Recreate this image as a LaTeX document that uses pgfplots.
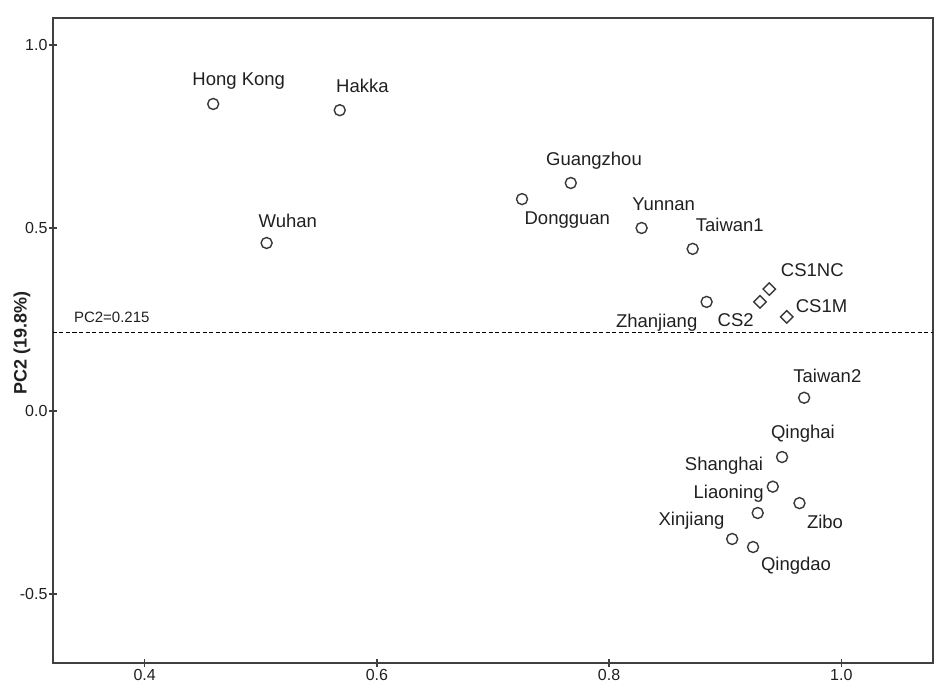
\documentclass[border=0pt]{standalone}
\usepackage{fontspec}
\setmainfont{Liberation Sans}
\usepackage{pgfplots}
\pgfplotsset{compat=1.18}
\definecolor{txt}{HTML}{202020}
\definecolor{mk}{HTML}{383838}
\begin{document}
\begin{tikzpicture}
\useasboundingbox (-53pt,-23pt) rectangle (882pt,663pt);
\begin{axis}[
  width=880pt, height=645pt, scale only axis,
  xmin=0.321, xmax=1.079, ymin=-0.689, ymax=1.074,
  xtick={0.4,0.6,0.8,1.0}, ytick={-0.5,0,0.5,1.0},
  xtick pos=bottom, ytick pos=left, tick align=center,
  major tick length=8pt,
  axis line style={line width=1.3pt, black!75},
  tick style={line width=1.3pt, black!75},
  /pgf/number format/.cd, fixed, fixed zerofill, precision=1, assume math mode=true,
  /pgfplots/.cd,
  tick label style={font=\fontsize{16}{18}\selectfont, text=txt},
  yticklabel style={xshift=2pt},
  xticklabel style={yshift=1pt},
  clip=false,
]
\addplot[only marks, mark=o, mark size=5.5pt, mark options={line width=1.4pt, draw=mk}] table {
x y
0.459 0.839
0.568 0.822
0.505 0.459
0.767 0.623
0.725 0.579
0.828 0.500
0.872 0.443
0.884 0.298
0.968 0.036
0.949 -0.126
0.941 -0.207
0.928 -0.279
0.964 -0.252
0.906 -0.350
0.924 -0.372
};
\addplot[only marks, mark=square, mark size=4.4pt, mark options={rotate=45, line width=1.4pt, draw=mk}] table {
x y
0.930 0.298
0.938 0.333
0.953 0.257
};
\addplot[black, line width=1pt, dash pattern=on 4pt off 2.5pt] coordinates {(0.321,0.215) (1.079,0.215)};
\begin{scope}[every node/.style={font=\fontsize{18.5}{20}\selectfont, text=txt, inner sep=0pt}]
\node at (axis cs:0.481,0.902) {Hong Kong};
\node at (axis cs:0.5875,0.889) {Hakka};
\node at (axis cs:0.5233,0.519) {Wuhan};
\node at (axis cs:0.787,0.683) {Guangzhou};
\node at (axis cs:0.764,0.523) {Dongguan};
\node at (axis cs:0.847,0.564) {Yunnan};
\node at (axis cs:0.904,0.508) {Taiwan1};
\node at (axis cs:0.975,0.385) {CS1NC};
\node at (axis cs:0.983,0.286) {CS1M};
\node at (axis cs:0.909,0.249) {CS2};
\node at (axis cs:0.841,0.242) {Zhanjiang};
\node at (axis cs:0.988,0.096) {Taiwan2};
\node at (axis cs:0.967,-0.063) {Qinghai};
\node at (axis cs:0.899,-0.150) {Shanghai};
\node at (axis cs:0.903,-0.225) {Liaoning};
\node at (axis cs:0.871,-0.299) {Xinjiang};
\node at (axis cs:0.986,-0.303) {Zibo};
\node at (axis cs:0.961,-0.422) {Qingdao};
\end{scope}
\node[font=\fontsize{15}{17}\selectfont, text=txt, inner sep=0pt] at (axis cs:0.3716,0.255) {PC2=0.215};
\node[rotate=90, font=\bfseries\fontsize{18}{20}\selectfont, text=txt, inner sep=0pt] at ([xshift=-31pt]rel axis cs:0,0.496) {PC2 (19.8\%)};
\end{axis}
\end{tikzpicture}
\end{document}
